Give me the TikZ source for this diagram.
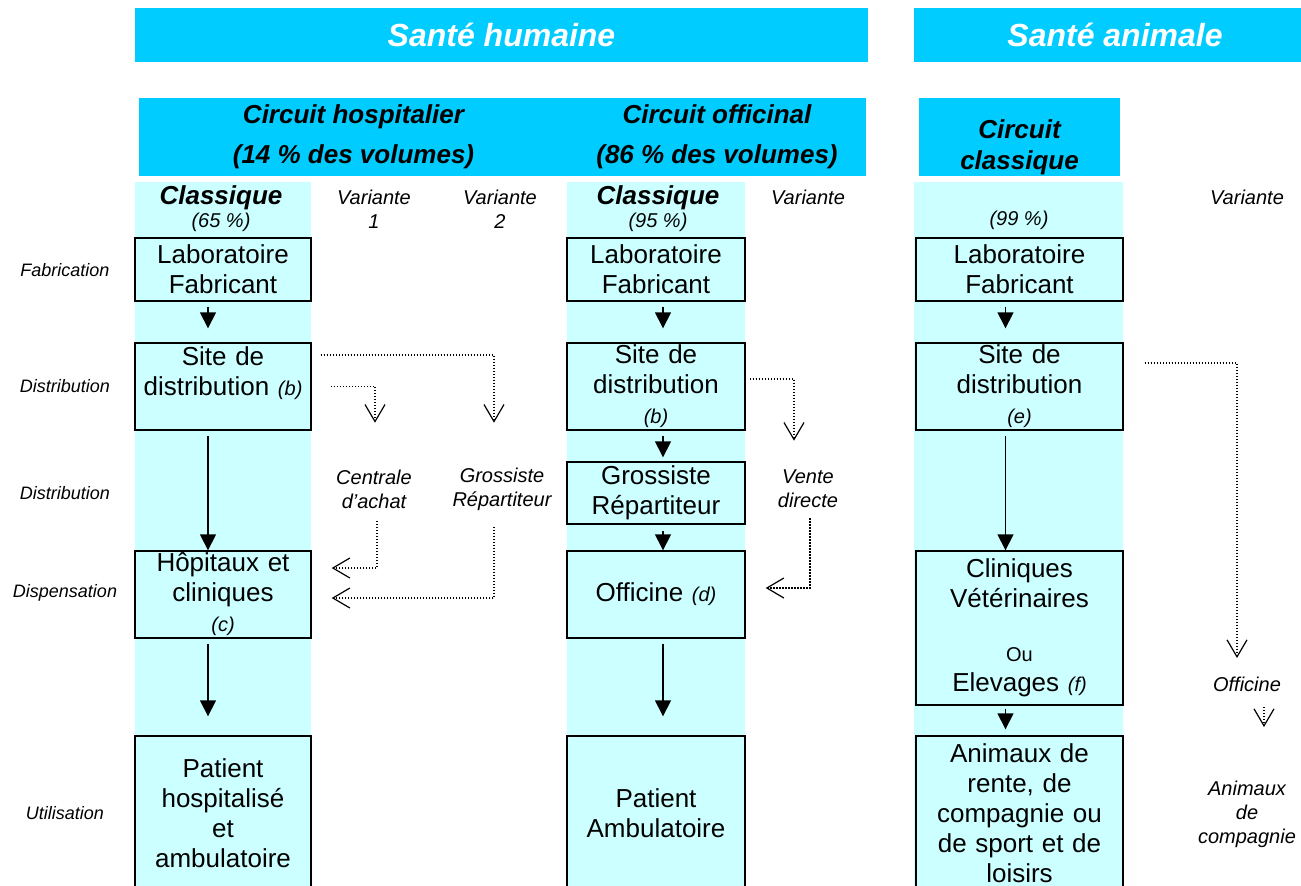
\documentclass[tikz,border=0pt]{standalone}
\usepackage{fontspec}
\setmainfont{Liberation Sans}
\usetikzlibrary{arrows.meta,calc}
\definecolor{HeadCyan}{RGB}{0,204,255}
\definecolor{PaleCyan}{RGB}{204,255,255}
\newcommand{\smallit}[1]{{\fontsize{10}{12}\selectfont\itshape #1}}
\tikzset{
  band/.style={fill=HeadCyan,inner sep=0pt,align=center},
  title/.style={band,text=white,minimum height=27pt,
    font=\fontsize{16}{19}\selectfont\bfseries\itshape},
  circuit/.style={band,minimum height=39pt,
    font=\fontsize{13}{20}\selectfont\bfseries\itshape},
  box/.style={draw,line width=0.7pt,fill=PaleCyan,inner sep=0pt,
    align=center,font=\fontsize{13}{15}\selectfont},
  boxH/.style={box,minimum width=88pt,text width=84pt},
  boxO/.style={box,minimum width=89pt,text width=85pt},
  boxA/.style={box,minimum width=103.5pt,text width=99pt},
  colhead/.style={font=\fontsize{13}{15}\selectfont\bfseries\itshape},
  stage/.style={font=\fontsize{9}{11}\selectfont\itshape},
  note/.style={font=\fontsize{10}{12}\selectfont\itshape,align=center,inner sep=0pt},
  flow/.style={-{Triangle[length=8pt,width=8pt]},line width=0.75pt},
  var/.style={-{Straight Barb[length=8.5pt,width=10pt]},line width=0.6pt,
    dash pattern=on 0.6pt off 0.9pt}
}
\begin{document}
\begin{tikzpicture}[x=0.5pt,y=-0.5pt]
\useasboundingbox (0,0) rectangle (1301,885);
\clip (0,0) rectangle (1301,885);

% titres
\node[title,minimum width=366.5pt] (santeH) at (501.5,35) {Santé humaine};
\node[title,minimum width=201pt] (santeA) at (1115,35) {Santé animale};
\node[circuit,minimum width=214.5pt] (circH) at (353.5,137) {Circuit hospitalier\\(14 \% des volumes)};
\node[circuit,minimum width=149pt] (circO) at (717,137) {Circuit officinal\\(86 \% des volumes)};
\node[circuit,minimum width=100.5pt,font=\fontsize{13}{15.5}\selectfont\bfseries\itshape] (circA) at (1019.5,137) {\rule{0pt}{19.5pt}Circuit\\classique};

% colonnes
\fill[PaleCyan] (135,182) rectangle (311,891);
\fill[PaleCyan] (567,182) rectangle (745,891);
\fill[PaleCyan] (914,182) rectangle (1123,891);

\node[colhead] (classH) at (221,198) {Classique};
\node[note] (pctH) at (221,222) {(65 \%)};
\node[note] (var1) at (374,209) {Variante\\1};
\node[note] (var2) at (500,209) {Variante\\2};
\node[colhead] (classO) at (658,198) {Classique};
\node[note] (pctO) at (658,222) {(95 \%)};
\node[note] (var3) at (808,197) {Variante};
\node[note] (pctA) at (1019,220) {(99 \%)};
\node[note] (var4) at (1247,197) {Variante};

% etapes
\node[stage] (stFab) at (65,270) {Fabrication};
\node[stage] (stDis) at (65,386) {Distribution};
\node[stage] (stGro) at (65,493) {Distribution};
\node[stage] (stDisp) at (65,593) {Dispensation};
\node[stage] (stUti) at (65,813) {Utilisation};

% circuit hospitalier
\node[boxH,minimum height=31.5pt] (labH) at (223,269.5) {Laboratoire\\Fabricant};
\node[boxH,minimum height=43.5pt] (siteH) at (223,386.5) {Site de\\distribution \smallit{(b)}\\\mbox{}};
\node[boxH,minimum height=43.5pt] (hopH) at (223,594.5) {Hôpitaux et\\cliniques\\\smallit{(c)}};
\node[boxH,minimum height=77.5pt] (patH) at (223,813.5) {Patient\\hospitalisé\\et\\ambulatoire};
\node[note] (centV) at (374,489) {Centrale\\d’achat};
\node[note] (grossV) at (502,489) {Grossiste\\Répartiteur};

% circuit officinal
\node[boxO,minimum height=31.5pt] (labO) at (656,269.5) {Laboratoire\\Fabricant};
\node[boxO,minimum height=43.5pt] (siteO) at (656,386.5) {Site de\\distribution\\\smallit{(b)}};
\node[boxO,minimum height=31pt] (grosO) at (656,493) {Grossiste\\Répartiteur};
\node[boxO,minimum height=43.5pt] (offO) at (656,594.5) {Officine \smallit{(d)}};
\node[boxO,minimum height=77.5pt] (patO) at (656,813.5) {Patient\\Ambulatoire};
\node[note] (venteV) at (808,489) {Vente\\directe};

% sante animale
\node[boxA,minimum height=31.5pt] (labA) at (1019.5,269.5) {Laboratoire\\Fabricant};
\node[boxA,minimum height=43.5pt] (siteA) at (1019.5,386.5) {Site de\\distribution\\\smallit{(e)}};
\node[boxA,minimum height=77pt] (cliA) at (1019.5,628) {Cliniques\\Vétérinaires\\[12pt]{\fontsize{10}{12}\selectfont Ou}\\Elevages \smallit{(f)}};
\node[boxA,minimum height=77.5pt] (aniA) at (1019.5,813.5) {Animaux de\\rente, de\\compagnie ou\\de sport et de\\loisirs};
\node[note] (offV) at (1247,684) {Officine};
\node[note] (animV) at (1247,814) {Animaux\\de\\compagnie};

% fleches
\draw[flow,shorten <=2.5pt,shorten >=7pt] ([xshift=-7.5pt]labH.south) -- ([xshift=-7.5pt]siteH.north);
\draw[flow,shorten <=2.5pt] ([xshift=-7.5pt]siteH.south) -- ([xshift=-7.5pt]hopH.north);
\draw[flow,shorten <=2.5pt,shorten >=9.5pt] ([xshift=-7.5pt]hopH.south) -- ([xshift=-7.5pt]patH.north);
\draw[flow,shorten <=2.5pt,shorten >=7pt] ([xshift=3.5pt]labO.south) -- ([xshift=3.5pt]siteO.north);
\draw[flow,shorten <=2.5pt,shorten >=2pt] ([xshift=3.5pt]siteO.south) -- ([xshift=3.5pt]grosO.north);
\draw[flow,shorten <=3pt] ([xshift=3.5pt]grosO.south) -- ([xshift=3.5pt]offO.north);
\draw[flow,shorten <=2.5pt,shorten >=9.5pt] ([xshift=3.5pt]offO.south) -- ([xshift=3.5pt]patO.north);
\draw[flow,shorten <=2.5pt,shorten >=7pt] ([xshift=-7pt]labA.south) -- ([xshift=-7pt]siteA.north);
\draw[flow,shorten <=2.5pt] ([xshift=-7pt]siteA.south) -- ([xshift=-7pt]cliA.north);
\draw[flow,shorten <=1.5pt,shorten >=3pt] ([xshift=-7pt]cliA.south) -- ([xshift=-7pt]aniA.north);

% variantes
\draw[var] ([xshift=4.5pt,yshift=15.75pt]siteH.east) -| ($(grossV.north |- siteH.south)+(-4pt,4pt)$);
\draw[var] ([xshift=9.5pt]siteH.east) -| ($(centV.north |- siteH.south)+(0.5pt,4pt)$);
\draw[var,shorten <=6pt] ([xshift=1.5pt]centV.south) |- ([xshift=10pt,yshift=13.25pt]hopH.east);
\draw[var,shorten <=8pt] ([xshift=-4pt]grossV.south) |- ([xshift=10pt,yshift=-1.75pt]hopH.east);
\draw[var] ([xshift=2pt,yshift=3.75pt]siteO.east) -| ($(venteV.north |- siteO.south)+(-7pt,-5pt)$);
\draw[var,shorten <=5pt] ([xshift=1pt]venteV.south) |- ([xshift=10pt,yshift=3.25pt]offO.east);
\draw[var] ([xshift=10.5pt,yshift=11.75pt]siteA.east) -| ($(offV.center)+(-5pt,13pt)$);
\draw[var] ([xshift=8.5pt,yshift=-11.5pt]offV.center) -- ([xshift=8.5pt,yshift=-21.5pt]offV.center);
\end{tikzpicture}
\end{document}
